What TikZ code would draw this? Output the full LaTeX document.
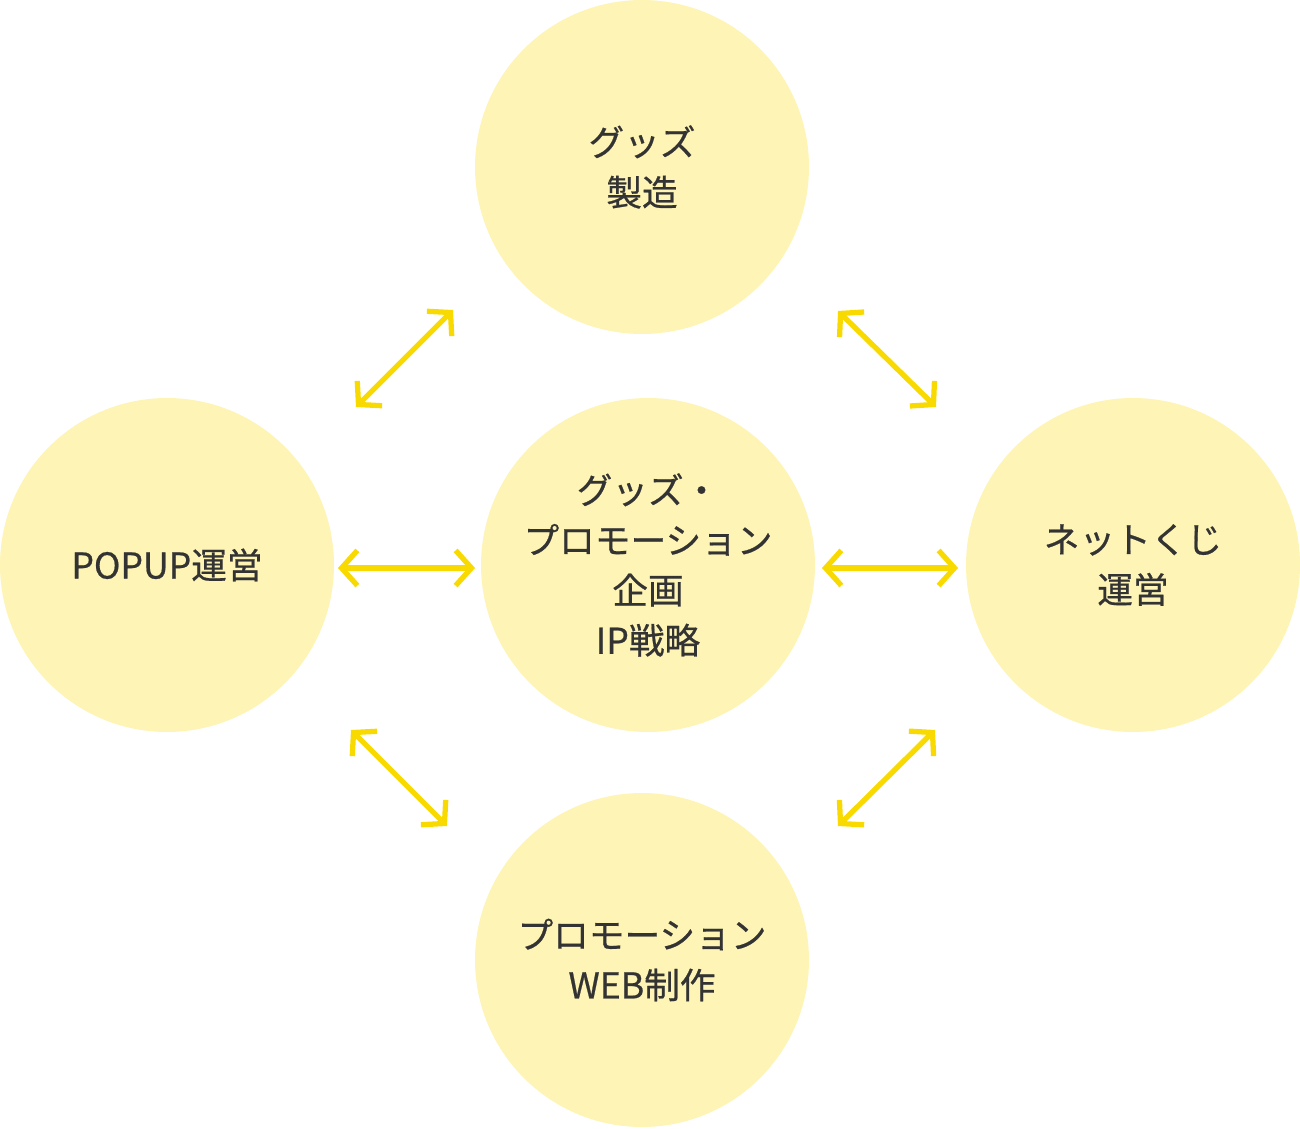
\documentclass[tikz,border=0pt]{standalone}
\usepackage{fontspec}
\setmainfont{Noto Sans CJK JP}[FakeBold=0.6]
\usetikzlibrary{arrows.meta}
\definecolor{fillc}{HTML}{FDF4B5}
\definecolor{arrc}{HTML}{F8DA00}
\definecolor{txt}{HTML}{333333}
\begin{document}
\begin{tikzpicture}[x=0.02cm,y=-0.02cm,
  bub/.style={circle,fill=fillc,minimum size=6.68cm,inner sep=0,text=txt,align=center,font=\fontsize{20.3}{28.5}\selectfont},
  arr/.style={arrc,line width=3pt,{Straight Barb[length=9pt,width=20pt,line join=miter]}-{Straight Barb[length=9pt,width=20pt,line join=miter]}}]
\useasboundingbox (0,0) rectangle (1300,1128);
\node[bub] (top) at (642,167) {グッズ\\製造};
\node[bub] (left) at (167,565) {POPUP運営};
\node[bub] (mid) at (648,565) {グッズ・\\プロモーション\\企画\\IP戦略};
\node[bub] (right) at (1133,565) {ネットくじ\\運営};
\node[bub] (bot) at (642,960) {プロモーション\\WEB制作};
\coordinate (a1) at (338,568); \coordinate (a2) at (475,568);
\coordinate (b1) at (822,568); \coordinate (b2) at (958,568);
\coordinate (c1) at (356,407); \coordinate (c2) at (453,310);
\coordinate (d1) at (838,311); \coordinate (d2) at (936,407);
\coordinate (e1) at (351,730); \coordinate (e2) at (447,826);
\coordinate (f1) at (838,826); \coordinate (f2) at (935,730);
\draw[arr] (a1) -- (a2);
\draw[arr] (b1) -- (b2);
\draw[arr] (c1) -- (c2);
\draw[arr] (d1) -- (d2);
\draw[arr] (e1) -- (e2);
\draw[arr] (f1) -- (f2);
\end{tikzpicture}
\end{document}
